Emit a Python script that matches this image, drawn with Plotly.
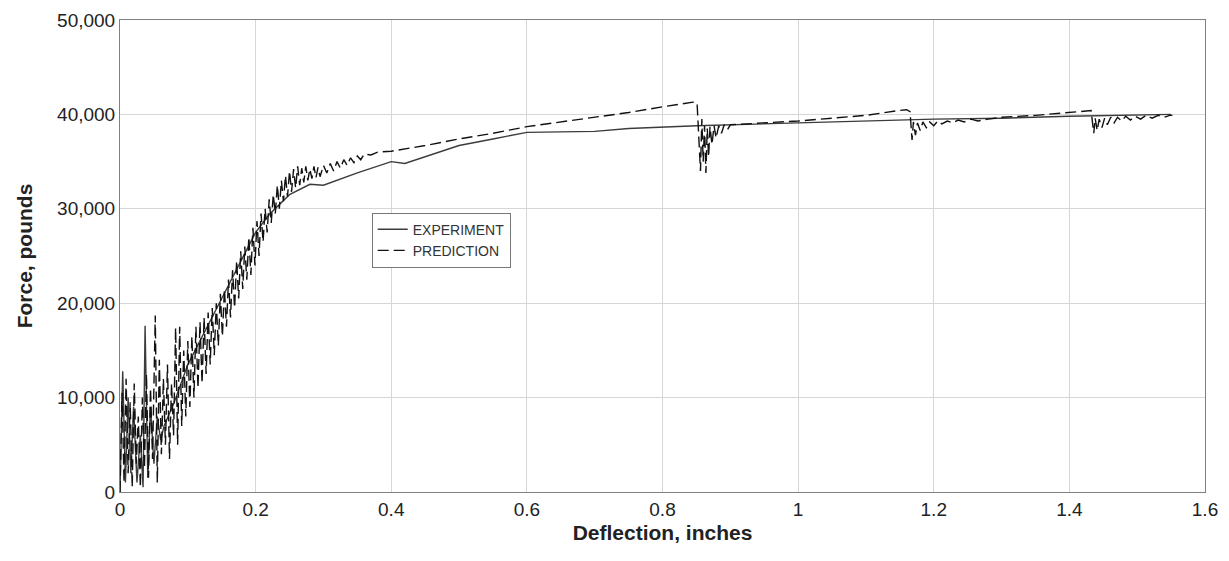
import plotly.graph_objects as go

# Experiment (solid) — deflection (in) and force (kips)
exp_x = [0.000, 0.004, 0.008, 0.012, 0.016, 0.020, 0.025, 0.030, 0.034, 0.037, 0.041, 0.045,
         0.050, 0.055, 0.060, 0.065, 0.080, 0.100, 0.150, 0.200, 0.220, 0.250, 0.280, 0.300,
         0.350, 0.400, 0.420, 0.500, 0.550, 0.600, 0.700, 0.750, 0.850, 0.900, 1.000, 1.100,
         1.200, 1.300, 1.400, 1.550]
exp_k = [0.0, 12.8, 1.0, 10.0, 2.0, 9.0, 1.0, 6.0, 0.5, 17.6, 1.5, 9.0,
         3.0, 8.0, 5.5, 7.0, 9.5, 13.5, 20.5, 27.5, 29.4, 31.5, 32.6, 32.5,
         33.8, 35.0, 34.8, 36.7, 37.4, 38.1, 38.2, 38.5, 38.8, 38.9, 39.1, 39.3,
         39.5, 39.6, 39.8, 40.0]

# Prediction (dashed)
pred_x = [0.000, 0.003, 0.006, 0.009, 0.012, 0.015, 0.018, 0.021, 0.024, 0.027, 0.030, 0.033,
          0.036, 0.039, 0.042, 0.045, 0.048, 0.052, 0.055, 0.058, 0.061, 0.064, 0.067, 0.070,
          0.073, 0.076, 0.079, 0.082, 0.085, 0.088, 0.091, 0.094, 0.097,
          0.100, 0.103, 0.106, 0.109, 0.112, 0.115, 0.118, 0.121, 0.124, 0.127, 0.130, 0.133,
          0.136, 0.139, 0.142, 0.145, 0.148, 0.151, 0.154, 0.157, 0.160, 0.163, 0.166, 0.169,
          0.172, 0.175, 0.178, 0.181, 0.184, 0.187, 0.190, 0.193, 0.196, 0.199, 0.202, 0.205,
          0.208, 0.211, 0.214, 0.217, 0.220, 0.223, 0.226, 0.229, 0.232, 0.235, 0.238, 0.241,
          0.244, 0.247, 0.250, 0.253, 0.256, 0.259, 0.262, 0.265, 0.268, 0.271, 0.274, 0.277,
          0.280, 0.283, 0.286, 0.289, 0.292, 0.295, 0.300, 0.305, 0.310, 0.315, 0.320, 0.325,
          0.330, 0.335, 0.340, 0.345, 0.350, 0.355, 0.360, 0.370, 0.380, 0.400, 0.450, 0.500,
          0.550, 0.600, 0.650, 0.700, 0.750, 0.800, 0.830, 0.845, 0.851,
          0.856, 0.858, 0.860, 0.862, 0.864, 0.866, 0.868, 0.870, 0.873, 0.876, 0.879, 0.883,
          0.887, 0.891, 0.896, 0.900, 0.950, 1.000, 1.050, 1.100, 1.147, 1.160, 1.165,
          1.168, 1.170, 1.173, 1.176, 1.180, 1.184, 1.189, 1.194, 1.200, 1.206, 1.212, 1.220,
          1.228, 1.236, 1.245, 1.255, 1.265, 1.280, 1.300, 1.350, 1.400, 1.425, 1.432,
          1.436, 1.438, 1.441, 1.444, 1.448, 1.452, 1.456, 1.461, 1.466, 1.471, 1.477, 1.483,
          1.490, 1.497, 1.505, 1.513, 1.522, 1.531, 1.540, 1.548, 1.552]
pred_k = [0.0, 10.5, 1.0, 12.0, 2.0, 9.5, 0.5, 11.5, 3.0, 8.0, 0.5, 10.0,
          2.5, 12.5, 1.5, 11.0, 3.5, 18.7, 1.0, 14.0, 4.0, 12.0, 5.0, 13.5,
          3.5, 11.5, 6.0, 17.4, 5.0, 17.5, 7.0, 15.0, 8.0,
          16.0, 9.0, 16.5, 10.0, 17.5, 11.0, 18.0, 11.5, 18.5, 12.5, 19.0, 13.5,
          19.5, 14.5, 20.0, 15.5, 21.0, 16.5, 21.5, 17.5, 22.5, 18.5, 23.5, 19.5,
          24.5, 20.5, 25.5, 21.5, 26.0, 22.5, 27.0, 23.0, 28.0, 24.0, 28.7, 25.0,
          29.5, 26.5, 30.0, 27.5, 31.0, 28.5, 31.5, 29.5, 32.5, 30.0, 33.0, 30.8,
          33.5, 31.3, 34.0, 31.8, 34.2, 32.2, 34.5, 32.5, 34.3, 32.8, 34.5, 33.0,
          34.2, 33.2, 34.5, 33.3, 34.4, 33.4, 34.6, 33.8, 34.8, 34.0, 35.0, 34.3,
          35.2, 34.6, 35.4, 34.9, 35.6, 35.2, 35.8, 35.7, 36.0, 36.1, 36.7, 37.4,
          38.0, 38.7, 39.2, 39.7, 40.2, 40.8, 41.1, 41.3, 41.2,
          34.0, 39.5, 35.0, 38.8, 33.8, 38.5, 35.5, 38.7, 36.8, 38.8, 37.5, 38.8,
          38.0, 38.9, 38.4, 38.9, 39.1, 39.3, 39.6, 39.9, 40.4, 40.5, 40.3,
          37.3, 39.2, 37.8, 39.1, 38.3, 39.2, 38.6, 39.2, 38.8, 39.3, 39.0, 39.3,
          39.1, 39.4, 39.2, 39.5, 39.3, 39.5, 39.7, 39.9, 40.2, 40.4, 40.4,
          38.0, 39.6, 38.3, 39.5, 38.6, 39.6, 38.9, 39.7, 39.1, 39.7, 39.3, 39.8,
          39.4, 39.8, 39.5, 39.9, 39.6, 39.9, 39.7, 39.9, 39.9]

x_ticks = [0, 0.2, 0.4, 0.6, 0.8, 1, 1.2, 1.4, 1.6]
x_tick_text = ["0", "0.2", "0.4", "0.6", "0.8", "1", "1.2", "1.4", "1.6"]
y_ticks = [0, 10000, 20000, 30000, 40000, 50000]
y_tick_text = ["0", "10,000", "20,000", "30,000", "40,000", "50,000"]

fig = go.Figure()
fig.add_trace(go.Scatter(
    x=exp_x, y=[v * 1000 for v in exp_k], mode="lines", name="EXPERIMENT",
    line=dict(color="#3c3c3c", width=1.4)))
fig.add_trace(go.Scatter(
    x=pred_x, y=[v * 1000 for v in pred_k], mode="lines", name="PREDICTION",
    line=dict(color="#111111", width=1.4, dash="11px,5px")))

font_family = "Liberation Sans, Arial, sans-serif"
fig.update_layout(
    width=1213, height=545,
    margin=dict(l=112, r=16, t=12, b=61),
    paper_bgcolor="white", plot_bgcolor="white",
    font=dict(family=font_family, color="#222222"),
    showlegend=True,
    legend=dict(x=0.232, y=0.592, xanchor="left", yanchor="top",
                bgcolor="white", bordercolor="#777777", borderwidth=1,
                font=dict(size=14, family=font_family, color="#333333"),
                tracegroupgap=0, itemwidth=30),
    xaxis=dict(range=[0, 1.6], tickvals=x_ticks, ticktext=x_tick_text,
               automargin=False,
               showgrid=True, gridcolor="#d6d6d6", gridwidth=1,
               showline=True, linecolor="#808080", linewidth=1, mirror=True,
               ticks="", zeroline=False,
               tickfont=dict(size=19, color="#222222"),
               title=dict(text="<b>Deflection, inches</b>", font=dict(size=21, color="#222222"),
                          standoff=6)),
    yaxis=dict(range=[0, 50000], tickvals=y_ticks, ticktext=y_tick_text,
               automargin=False,
               showgrid=True, gridcolor="#d6d6d6", gridwidth=1,
               showline=True, linecolor="#808080", linewidth=1, mirror=True,
               ticks="", zeroline=False,
               tickfont=dict(size=19, color="#222222"),
               title=dict(text="<b>Force, pounds</b>", font=dict(size=21, color="#222222"),
                          standoff=18)),
)

fig.write_html("out.html")
